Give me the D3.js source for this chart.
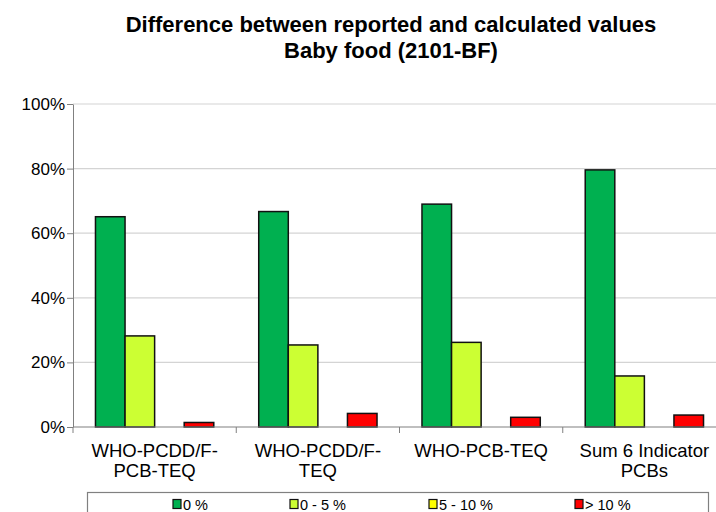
<!DOCTYPE html>
<html>
<head>
<meta charset="utf-8">
<script src="https://cdn.jsdelivr.net/npm/d3@7"></script>
<style>
  html, body { margin: 0; padding: 0; background: #fff; }
  svg { display: block; font-family: Arial, "Liberation Sans", sans-serif; }
</style>
</head>
<body>
<svg id="chart" width="716" height="512"></svg>
<script>
// Share of results by size of difference, per parameter
const categories = [
  ["WHO-PCDD/F-", "PCB-TEQ"],
  ["WHO-PCDD/F-", "TEQ"],
  ["WHO-PCB-TEQ"],
  ["Sum 6 Indicator", "PCBs"]
];
const seriesNames = ["0 %", "0 - 5 %", "5 - 10 %", "> 10 %"];
const seriesColors = ["#00b050", "#ccff33", "#ffff00", "#ff0000"];
const val0 = [65.1, 66.7, 69.0, 79.6];
const val0to5 = [28.2, 25.4, 26.2, 15.8];
const val5to10 = [0, 0, 0, 0];
const valOver10 = [1.4, 4.2, 3.0, 3.7];
const yTicks = [0, 20, 40, 60, 80, 100];
const titleLines = ["Difference between reported and calculated values", "Baby food (2101-BF)"];

const series = [val0, val0to5, val5to10, valOver10];

const svg = d3.select("#chart");
const plotLeft = 73, plotRight = 726, plotTop = 104, plotBottom = 427;

const x0 = d3.scaleBand().domain(d3.range(categories.length)).range([plotLeft, plotRight]).paddingInner(0).paddingOuter(0);
const x1 = d3.scaleBand().domain(d3.range(series.length)).range([0, x0.bandwidth()]).paddingOuter(0.76).paddingInner(0);
const y = d3.scaleLinear().domain([0, 100]).range([plotBottom, plotTop]);

// title
svg.append("g").selectAll("text").data(titleLines).join("text")
  .attr("x", 391).attr("y", (d, i) => 32 + i * 26)
  .attr("text-anchor", "middle")
  .attr("font-size", 22).attr("font-weight", "bold").attr("fill", "#000")
  .text(d => d);

// gridlines
svg.append("g").selectAll("line").data(yTicks.filter(t => t > 0)).join("line")
  .attr("x1", plotLeft).attr("x2", plotRight)
  .attr("y1", d => y(d)).attr("y2", d => y(d))
  .attr("stroke", "#d4d4d4").attr("stroke-width", 1.2);

// y axis
const yAxis = svg.append("g").attr("transform", `translate(${plotLeft},0)`)
  .call(d3.axisLeft(y).tickValues(yTicks).tickFormat(d => d + "%").tickSize(6).tickSizeOuter(0));
yAxis.select(".domain").attr("stroke", "#808080");
yAxis.selectAll(".tick line").attr("stroke", "#808080");
yAxis.selectAll(".tick text").attr("font-size", 17).attr("fill", "#000").attr("x", -8)
  .attr("font-family", "Arial, 'Liberation Sans', sans-serif");

// bars
const groups = svg.append("g").selectAll("g").data(categories).join("g")
  .attr("transform", (d, i) => `translate(${x0(i)},0)`);
groups.selectAll("rect")
  .data((d, i) => series.map((s, j) => ({ j, v: s[i] })).filter(e => e.v > 0))
  .join("rect")
  .attr("x", e => x1(e.j))
  .attr("width", x1.bandwidth())
  .attr("y", e => y(e.v))
  .attr("height", e => y(0) - y(e.v))
  .attr("fill", e => seriesColors[e.j])
  .attr("stroke", "#111").attr("stroke-width", 1.5);

// x axis
const xAxisG = svg.append("g");
xAxisG.append("line").attr("x1", plotLeft).attr("x2", plotRight).attr("y1", plotBottom).attr("y2", plotBottom)
  .attr("stroke", "#808080").attr("stroke-width", 1.2);
xAxisG.selectAll("line.tk").data(d3.range(categories.length + 1)).join("line")
  .attr("class", "tk")
  .attr("x1", i => plotLeft + i * x0.bandwidth()).attr("x2", i => plotLeft + i * x0.bandwidth())
  .attr("y1", plotBottom).attr("y2", plotBottom + 6)
  .attr("stroke", "#808080");
const labels = xAxisG.selectAll("text").data(categories).join("text")
  .attr("text-anchor", "middle")
  .attr("font-size", 18.5).attr("fill", "#000")
  .attr("transform", (d, i) => `translate(${x0(i) + x0.bandwidth() / 2},${plotBottom + 30})`);
labels.selectAll("tspan").data(d => d).join("tspan")
  .attr("x", 0).attr("dy", (d, k) => k === 0 ? 0 : 20)
  .text(d => d);

// legend
const lg = svg.append("g");
lg.append("rect").attr("x", 87.5).attr("y", 492.5).attr("width", 621).attr("height", 30)
  .attr("fill", "#fff").attr("stroke", "#808080").attr("stroke-width", 1.2);
const legendX = [173, 290, 429, 575];
const items = lg.selectAll("g").data(seriesNames).join("g")
  .attr("transform", (d, i) => `translate(${legendX[i]},504)`);
items.append("rect").attr("x", 0).attr("y", -4.5).attr("width", 8).attr("height", 9)
  .attr("fill", (d, i) => seriesColors[i]).attr("stroke", "#111").attr("stroke-width", 1.2);
items.append("text").attr("x", 10).attr("y", 5.5).attr("font-size", 14.5).attr("fill", "#000").text(d => d);
</script>
</body>
</html>
